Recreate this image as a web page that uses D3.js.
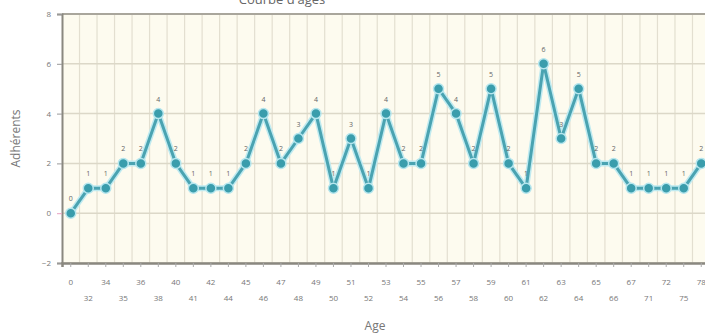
<!DOCTYPE html>
<html>
<head>
<meta charset="utf-8">
<script src="https://cdn.jsdelivr.net/npm/d3@7"></script>
<style>
  body { margin: 0; background: #fff; }
  svg { display: block; font-family: "Open Sans", sans-serif; }
</style>
</head>
<body>
<div id="chart"></div>
<script>
const ages = ["0", "32", "34", "35", "36", "38", "40", "41", "42", "44", "45", "46", "47", "48", "49", "50", "51", "52", "53", "54", "55", "56", "57", "58", "59", "60", "61", "62", "63", "64", "65", "66", "67", "71", "72", "75", "78"];
const adherents = [0, 1, 1, 2, 2, 4, 2, 1, 1, 1, 2, 4, 2, 3, 4, 1, 3, 1, 4, 2, 2, 5, 4, 2, 5, 2, 1, 6, 3, 5, 2, 2, 1, 1, 1, 1, 2];
const yTicks = [-2, 0, 2, 4, 6, 8];
const title = "Courbe d'âges";

const width = 705;
const height = 336;
const margin = { top: 14, right: -5, bottom: 73, left: 62 };
const innerWidth = width - margin.left - margin.right;
const innerHeight = height - margin.top - margin.bottom;

const data = ages.map((age, i) => ({ age, value: adherents[i] }));

const xScale = d3.scaleBand().domain(ages).range([0, innerWidth]);
const yScale = d3.scaleLinear().domain([-2, 8]).range([innerHeight, 0]);
const cx = (d) => xScale(d.age) + xScale.bandwidth() / 2;

const svg = d3.select("#chart")
  .append("svg")
  .attr("width", width)
  .attr("height", height)
  .attr("viewBox", [0, 0, width, height]);

svg.append("text")
  .attr("x", 282)
  .attr("y", 4)
  .attr("text-anchor", "middle")
  .attr("fill", "#666")
  .style("font-size", "13px")
  .text(title);

const chart = svg.append("g")
  .attr("transform", `translate(${margin.left},${margin.top})`);

chart.append("rect")
  .attr("width", innerWidth)
  .attr("height", innerHeight)
  .attr("fill", "#fdfbef");

// vertical grid at band edges
chart.append("g")
  .selectAll("line")
  .data(ages.slice(1))
  .join("line")
  .attr("x1", (d) => xScale(d))
  .attr("x2", (d) => xScale(d))
  .attr("y1", 0)
  .attr("y2", innerHeight)
  .attr("stroke", "#e3dfd0")
  .attr("stroke-width", 1.2);

// horizontal grid
chart.append("g")
  .selectAll("line")
  .data(yTicks)
  .join("line")
  .attr("x1", 0)
  .attr("x2", innerWidth)
  .attr("y1", (d) => yScale(d))
  .attr("y2", (d) => yScale(d))
  .attr("stroke", (d) => (d === 8 ? "#a9a69c" : "#dcd8c8"))
  .attr("stroke-width", (d) => (d === 8 ? 2 : 1.5));

// y axis
chart.append("g")
  .call(d3.axisLeft(yScale).tickValues(yTicks).tickSize(5).tickPadding(6))
  .call((axis) => axis.select(".domain").attr("stroke", "#8a8880").attr("stroke-width", 2))
  .call((axis) => axis.selectAll(".tick line").attr("stroke", (d) => (d === 0 ? "#e8a0c0" : "#999")))
  .call((axis) =>
    axis.selectAll(".tick text")
      .attr("fill", "#777")
      .style("font-size", "8px")
      .style("font-family", "Open Sans, sans-serif"),
  );

// x axis
chart.append("g")
  .attr("transform", `translate(0,${innerHeight})`)
  .call(d3.axisBottom(xScale).tickSize(4).tickPadding(12))
  .call((axis) => axis.select(".domain").attr("stroke", "#8a8880").attr("stroke-width", 2.5))
  .call((axis) => axis.selectAll(".tick line").attr("stroke", "#aaa"))
  .call((axis) =>
    axis.selectAll(".tick text")
      .attr("fill", "#777")
      .attr("dy", (d, i) => (i % 2 === 0 ? "0.71em" : "2.8em"))
      .style("font-size", "8px")
      .style("font-family", "Open Sans, sans-serif"),
  );

const line = d3.line()
  .x(cx)
  .y((d) => yScale(d.value));

chart.append("path")
  .datum(data)
  .attr("fill", "none")
  .attr("stroke", "#bfeaf0")
  .attr("stroke-width", 6)
  .attr("stroke-linejoin", "round")
  .attr("d", line);

chart.append("path")
  .datum(data)
  .attr("fill", "none")
  .attr("stroke", "#4aa3b1")
  .attr("stroke-width", 3)
  .attr("stroke-linejoin", "round")
  .attr("d", line);

chart.append("g")
  .selectAll("circle")
  .data(data)
  .join("circle")
  .attr("cx", cx)
  .attr("cy", (d) => yScale(d.value))
  .attr("r", 5)
  .attr("fill", "#3a9dac")
  .attr("stroke", "#b6e6ee")
  .attr("stroke-width", 1.5);

chart.append("g")
  .selectAll("text")
  .data(data)
  .join("text")
  .attr("x", cx)
  .attr("y", (d) => yScale(d.value) - 12)
  .attr("text-anchor", "middle")
  .attr("fill", "#666")
  .style("font-size", "7px")
  .text((d) => d.value);

svg.append("text")
  .attr("transform", `translate(20,${margin.top + innerHeight / 2}) rotate(-90)`)
  .attr("text-anchor", "middle")
  .attr("fill", "#777")
  .style("font-size", "12px")
  .text("Adhérents");

svg.append("text")
  .attr("x", 375)
  .attr("y", 330)
  .attr("text-anchor", "middle")
  .attr("fill", "#777")
  .style("font-size", "12px")
  .text("Age");
</script>
</body>
</html>
